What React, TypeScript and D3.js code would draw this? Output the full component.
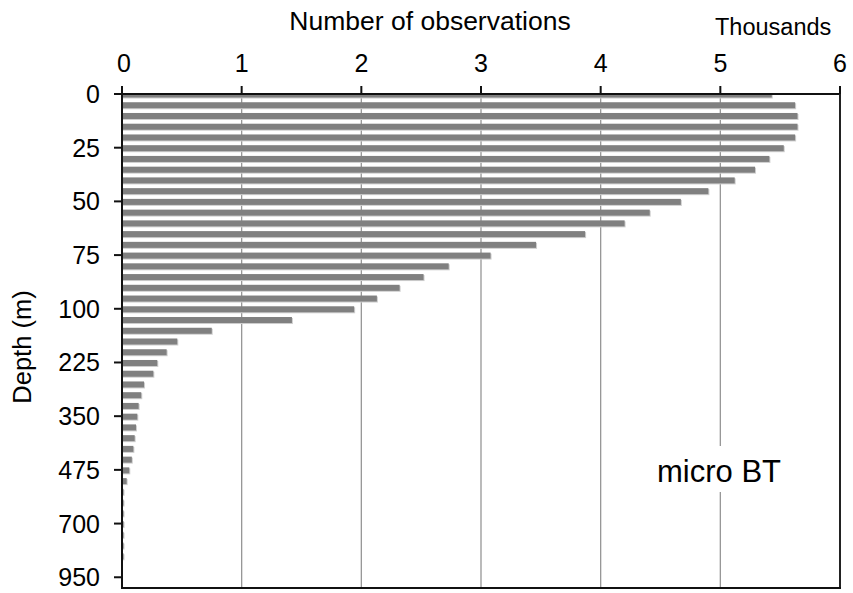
import React from "react";
import * as d3 from "d3";

const depths: number[] = [
  0, 5, 10, 15, 20, 25, 30, 35, 40, 45, 50, 55, 60, 65, 70, 75, 80, 85, 90, 95, 100,
  125, 150, 175, 200, 225, 250, 275, 300, 325, 350, 375, 400, 425, 450, 475,
  500, 550, 600, 650, 700, 750, 800, 850, 900, 950, 1000,
];
// number of observations, thousands
const observations: number[] = [
  5.43, 5.625, 5.645, 5.645, 5.625, 5.53, 5.41, 5.29, 5.12, 4.9, 4.67, 4.41, 4.2, 3.87, 3.46, 3.08,
  2.73, 2.52, 2.32, 2.13, 1.94,
  1.42, 0.75, 0.462, 0.373, 0.295, 0.262, 0.184, 0.161, 0.139, 0.128, 0.117, 0.106, 0.095, 0.082, 0.061,
  0.039, 0.012, 0.01, 0.01, 0.013, 0.01, 0.009, 0.008, 0, 0, 0,
];
const xTicks: number[] = [0, 1, 2, 3, 4, 5, 6];
const yLabelEvery = 5;

const FONT = "'Liberation Sans', Arial, sans-serif";

export default function App() {
  const W = 853, H = 593;
  const left = 122, right = 840, top = 94, bottom = 588;
  const x = d3.scaleLinear().domain([0, 6]).range([left, right]);
  const y = d3.scalePoint<number>().domain(depths).range([top, bottom]).padding(0);
  const step = y.step();
  const barH = step * 0.56;
  const yTickDepths = depths.filter((_, i) => i % yLabelEvery === 0 && i < depths.length - 1);

  return (
    <svg width={W} height={H} style={{ position: "absolute", left: 0, top: 0, background: "#fff" }} fontFamily={FONT}>
      <defs>
        <clipPath id="plotClip">
          <rect x={left} y={top} width={right - left} height={bottom - top} />
        </clipPath>
      </defs>
      <rect x={0} y={0} width={W} height={H} fill="#fff" />
      {/* gridlines */}
      {xTicks.slice(1, -1).map((t) => (
        <line key={"g" + t} x1={x(t)} x2={x(t)} y1={top} y2={bottom} stroke="#969696" strokeWidth={1.3} />
      ))}
      {/* bars */}
      <g clipPath="url(#plotClip)">
        {depths.map((d, i) => {
          const v = observations[i];
          if (!v) return null;
          const cy = (y(d) as number) + 0.5;
          const w = Math.max(x(v) - x(0), 1.5);
          return (
            <g key={"b" + i}>
              <rect x={x(0) + 1} y={cy - barH / 2 + 1} width={w} height={barH} fill="#cfcfcf" />
              <rect x={x(0)} y={cy - barH / 2} width={w} height={barH} fill="#808080" />
            </g>
          );
        })}
      </g>
      {/* micro BT label box */}
      <rect x={645} y={446} width={150} height={46} fill="#fff" />
      <text x={657} y={482} fontSize={31} fill="#000">micro BT</text>
      {/* plot border / axes */}
      <line x1={left} x2={right} y1={top} y2={top} stroke="#111" strokeWidth={2} />
      <line x1={left} x2={left} y1={top} y2={bottom} stroke="#111" strokeWidth={2} />
      <line x1={right} x2={right} y1={top - 1} y2={bottom + 1} stroke="#222" strokeWidth={2} />
      <line x1={left - 1} x2={right + 1} y1={bottom} y2={bottom} stroke="#111" strokeWidth={2} />
      {/* top ticks */}
      {xTicks.map((t) => (
        <g key={"xt" + t}>
          <line x1={x(t)} x2={x(t)} y1={top - 8} y2={top} stroke="#111" strokeWidth={2} />
          <text x={x(t) + (t === 0 ? 2 : 0)} y={72} fontSize={25} textAnchor="middle" fill="#000">{t}</text>
        </g>
      ))}
      {/* left ticks */}
      {yTickDepths.map((d) => (
        <g key={"yt" + d}>
          <line x1={left - 8} x2={left} y1={y(d) as number} y2={y(d) as number} stroke="#111" strokeWidth={2} />
          <text x={100} y={(y(d) as number) + 9} fontSize={25} textAnchor="end" fill="#000">{d}</text>
        </g>
      ))}
      <text x={430} y={30} fontSize={26.5} textAnchor="middle" fill="#000">Number of observations</text>
      <text x={715} y={35} fontSize={23.5} fill="#000">Thousands</text>
      <text transform="translate(31,347) rotate(-90)" fontSize={25.5} textAnchor="middle" fill="#000">Depth (m)</text>
    </svg>
  );
}
